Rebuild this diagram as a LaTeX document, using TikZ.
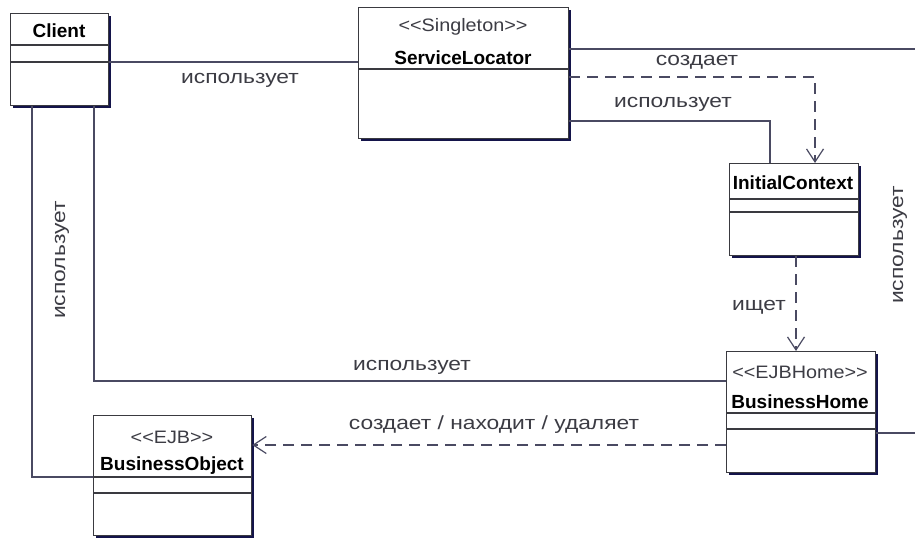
\documentclass[tikz,border=0pt]{standalone}
\usepackage{fontspec}
\setmainfont{Liberation Sans}
\newfontfamily\lblfont[FakeStretch=1.2]{Liberation Sans}
\newfontfamily\stfont[FakeStretch=1.1]{Liberation Sans}
\usetikzlibrary{shadows,arrows.meta}

\definecolor{boxline}{HTML}{3A3A40}
\definecolor{boxshade}{HTML}{14144A}
\definecolor{wire}{HTML}{4A4A62}
\definecolor{lbl}{HTML}{3C3C44}

\begin{document}
\begin{tikzpicture}[x=1pt,y=-1pt,
  classbox/.style={draw=boxline, fill=white, line width=1.2pt, anchor=north west,
    inner sep=0pt, general shadow={fill=boxshade, shadow xshift=2.8pt, shadow yshift=-2.8pt}},
  sep/.style={draw=boxline, line width=1.1pt},
  title/.style={font=\fontsize{19}{21}\selectfont\bfseries, text=black, inner sep=0pt},
  stereo/.style={font=\stfont\fontsize{18}{20}\selectfont, text=lbl, inner sep=0pt},
  assoc/.style={draw=wire, line width=1.4pt},
  depend/.style={draw=wire, line width=1.4pt, dash pattern=on 11pt off 7pt,
    -{Straight Barb[length=13pt,width=17pt,line width=1.2pt]}},
  lab/.style={font=\lblfont\fontsize{19}{21}\selectfont, text=lbl, inner sep=0pt}
]
\useasboundingbox (0,0) rectangle (915,538);
\clip (0,0) rectangle (915,538);
\fill[white] (0,0) rectangle (915,538);

% class boxes
\node[classbox, minimum width=98pt,  minimum height=92pt]  (cl) at (10,13)  {};
\node[classbox, minimum width=210pt, minimum height=131pt] (sl) at (358,7)  {};
\node[classbox, minimum width=129pt, minimum height=92pt]  (ic) at (729,163) {};
\node[classbox, minimum width=149pt, minimum height=121pt] (bh) at (726,351) {};
\node[classbox, minimum width=158pt, minimum height=120pt] (bo) at (93,415)  {};

% compartment separators
\draw[sep] (10,45) -- (108,45);   \draw[sep] (10,62) -- (108,62);
\draw[sep] (358,69) -- (568,69);
\draw[sep] (729,199) -- (858,199); \draw[sep] (729,212) -- (858,212);
\draw[sep] (726,413) -- (875,413); \draw[sep] (726,429) -- (875,429);
\draw[sep] (93,477) -- (251,477);  \draw[sep] (93,493) -- (251,493);

% class names and stereotypes
\node[title]  (clname) at (59,31)   {Client};
\node[stereo] (slst)   at (463,27)  {<\kern0pt<Singleton>\kern0pt>};
\node[title]  (slname) at (463,58)  {ServiceLocator};
\node[title]  (icname) at (793,183) {InitialContext};
\node[stereo] (bhst)   at (800,372) {<\kern0pt<EJBHome>\kern0pt>};
\node[title]  (bhname) at (800,402) {BusinessHome};
\node[stereo] (bost)   at (172,437) {<\kern0pt<EJB>\kern0pt>};
\node[title]  (boname) at (172,466) {BusinessObject};

% associations
\draw[assoc] ([yshift=-49pt]cl.north east) -- ([yshift=-55pt]sl.north west);
\draw[assoc] ([yshift=-42pt]sl.north east) -| ([xshift=55pt,yshift=-82pt]bh.north east)
             -- ([yshift=-82pt]bh.north east);
\draw[assoc] ([yshift=-114pt]sl.north east) -| ([xshift=41pt]ic.north west);
\draw[assoc] ([xshift=84pt]cl.south west) |- ([yshift=-30pt]bh.north west);
\draw[assoc] ([xshift=22pt]cl.south west) |- ([yshift=-62pt]bo.north west);

% dependencies
\draw[depend] ([yshift=-70pt]sl.north east) -| ([xshift=86pt]ic.north west);
\draw[depend] ([xshift=67pt]ic.south west) -- ([xshift=70pt]bh.north west);
\draw[depend] ([yshift=-94pt]bh.north west) -- ([yshift=-30pt]bo.north east);

% connector labels
\node[lab] (l1) at (240,80)  {использует};
\node[lab] (l2) at (697,62)  {создает};
\node[lab] (l3) at (673,104) {использует};
\node[lab] (l4) at (759,307) {ищет};
\node[lab, rotate=90] (l5) at (62,260)  {использует};
\node[lab, rotate=90] (l6) at (900,245) {использует};
\node[lab] (l7) at (412,367) {использует};
\node[lab] (l8) at (494,425) {создает / находит / удаляет};
\end{tikzpicture}
\end{document}
